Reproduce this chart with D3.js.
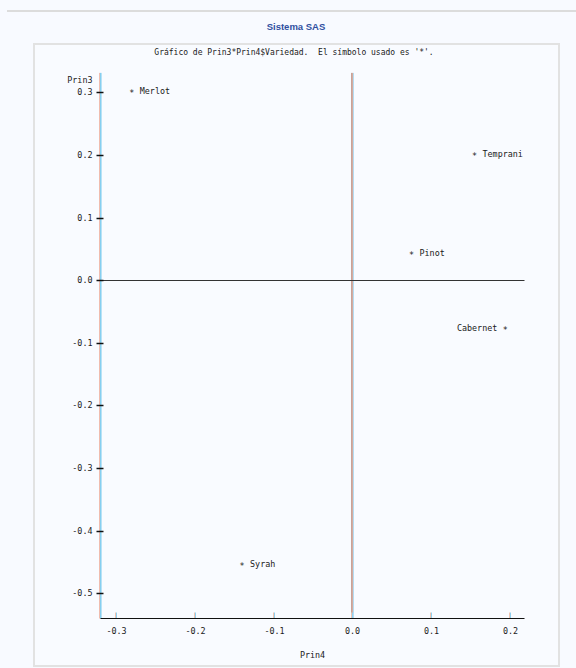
<!DOCTYPE html>
<html>
<head>
<meta charset="utf-8">
<script src="https://cdn.jsdelivr.net/npm/d3@7"></script>
<style>
  html, body { margin: 0; padding: 0; background: #f8faff; }
  svg { display: block; }
  .mono { font-family: "DejaVu Sans Mono", "Liberation Mono", monospace; fill: #1a1a1a; }
</style>
</head>
<body>
<script>
// Principal component scores by grape variety
const varieties = ["Merlot", "Temprani", "Pinot", "Cabernet", "Syrah"];
const prin4 = [-0.280, 0.155, 0.075, 0.194, -0.140];
const prin3 = [0.302, 0.202, 0.043, -0.077, -0.453];
// label side: 1 = right of the symbol, -1 = left
const labelSide = [1, 1, 1, -1, 1];

const xTicks = [-0.3, -0.2, -0.1, 0.0, 0.1, 0.2];
const yTicks = [0.3, 0.2, 0.1, 0.0, -0.1, -0.2, -0.3, -0.4, -0.5];

const W = 576, H = 668;
const svg = d3.select("body").append("svg").attr("width", W).attr("height", H);

svg.append("rect").attr("width", W).attr("height", H).attr("fill", "#f8faff");

// page header rule and output frame
svg.append("line").attr("x1", 7).attr("x2", W).attr("y1", 11).attr("y2", 11)
  .attr("stroke", "#dcdcdc").attr("stroke-width", 2);
svg.append("rect").attr("x", 34).attr("y", 44).attr("width", 525).attr("height", 622)
  .attr("fill", "#f9fbff").attr("stroke", "#e2e2e2").attr("stroke-width", 2);

svg.append("text").attr("x", 296).attr("y", 30).attr("text-anchor", "middle")
  .attr("font-family", "Liberation Sans, Arial, sans-serif").attr("font-size", 9.5)
  .attr("font-weight", "bold").attr("fill", "#2f4f9f").text("Sistema SAS");

svg.append("text").attr("class", "mono").attr("x", 294).attr("y", 55)
  .attr("text-anchor", "middle").attr("font-size", 8).attr("xml:space", "preserve")
  .text("Gráfico de Prin3*Prin4$Variedad.  El símbolo usado es '*'.");

const x = d3.scaleLinear().domain([-0.3, 0.2]).range([116, 510]);
const y = d3.scaleLinear().domain([-0.5, 0.3]).range([593.3, 92.3]);
const px = v => Math.round(v) + 0.5;

const xMin = -0.32, xMax = 0.218, yMin = -0.539, yMax = 0.331;
const plotLeft = px(x(xMin)), plotRight = px(x(xMax));
const plotTop = y(yMax), plotBottom = px(y(yMin));

const g = svg.append("g");

// zero reference lines
const x0 = px(x(0));
g.append("line").attr("x1", x0 - 1).attr("x2", x0 - 1).attr("y1", plotTop).attr("y2", plotBottom)
  .attr("stroke", "#c9a297").attr("stroke-width", 1);
g.append("line").attr("x1", x0).attr("x2", x0).attr("y1", plotTop).attr("y2", plotBottom)
  .attr("stroke", "#d2aca2").attr("stroke-width", 1);
g.append("line").attr("x1", x0 + 1).attr("x2", x0 + 1).attr("y1", plotTop).attr("y2", plotBottom)
  .attr("stroke", "#b4dcf2").attr("stroke-width", 1);
g.append("line").attr("x1", plotLeft).attr("x2", plotRight).attr("y1", px(y(0))).attr("y2", px(y(0)))
  .attr("stroke", "#333").attr("stroke-width", 1.2);

// vertical axis line
g.append("line").attr("x1", plotLeft - 1).attr("x2", plotLeft - 1).attr("y1", plotTop).attr("y2", plotBottom)
  .attr("stroke", "#f0bcae").attr("stroke-width", 1);
g.append("line").attr("x1", plotLeft).attr("x2", plotLeft).attr("y1", plotTop).attr("y2", plotBottom)
  .attr("stroke", "#86cff0").attr("stroke-width", 1);
g.append("line").attr("x1", plotLeft + 1).attr("x2", plotLeft + 1).attr("y1", plotTop).attr("y2", plotBottom)
  .attr("stroke", "#b8e2f6").attr("stroke-width", 1);

// Y axis
const yAxis = d3.axisLeft(y).tickValues(yTicks).tickFormat(d => d.toFixed(1))
  .tickSizeInner(6).tickSizeOuter(0).tickPadding(5);
const gy = g.append("g").attr("transform", `translate(${plotLeft},0)`).call(yAxis);
gy.select(".domain").remove();
gy.selectAll(".tick").attr("transform", d => `translate(0,${px(y(d))})`);
gy.selectAll(".tick line").attr("x1", 3).attr("x2", -4).attr("stroke", "#111").attr("stroke-width", 1.5);
gy.selectAll(".tick text").attr("class", "mono").attr("font-size", 8.4).attr("x", -8);

// X axis
const xAxis = d3.axisBottom(x).tickValues(xTicks).tickFormat(d => d.toFixed(1))
  .tickSizeInner(-6).tickSizeOuter(0).tickPadding(10);
const gx = g.append("g").attr("transform", `translate(0,${plotBottom})`).call(xAxis);
gx.select(".domain").remove();
gx.selectAll(".tick").attr("transform", d => `translate(${px(x(d))},0)`);
gx.selectAll(".tick line").attr("stroke", "#8fd0f0").attr("stroke-width", 1);
gx.selectAll(".tick").insert("line", "text").attr("x1", -1).attr("x2", -1).attr("y1", 0).attr("y2", -6)
  .attr("stroke", "#efc4b0").attr("stroke-width", 1);
gx.selectAll(".tick text").attr("class", "mono").attr("font-size", 8.4);
g.append("line").attr("x1", plotLeft).attr("x2", plotRight).attr("y1", plotBottom).attr("y2", plotBottom)
  .attr("stroke", "#111").attr("stroke-width", 1.2);

// axis titles
g.append("text").attr("class", "mono").attr("x", plotLeft - 8).attr("y", 83)
  .attr("text-anchor", "end").attr("font-size", 8.4).text("Prin3");
g.append("text").attr("class", "mono").attr("x", (plotLeft + plotRight) / 2).attr("y", 658)
  .attr("text-anchor", "middle").attr("font-size", 8.4).text("Prin4");

// points: '*' symbol with variety name
const pts = g.append("g").selectAll("g").data(varieties).join("g")
  .attr("transform", (d, i) => `translate(${x(prin4[i])},${y(prin3[i])})`);
pts.append("text").attr("class", "mono").attr("text-anchor", "middle")
  .attr("font-size", 8.4).attr("y", 5).text("*");
pts.append("text").attr("class", "mono").attr("font-size", 8.4)
  .attr("x", (d, i) => labelSide[i] * 8)
  .attr("text-anchor", (d, i) => labelSide[i] > 0 ? "start" : "end")
  .attr("y", 3).text(d => d);
</script>
</body>
</html>
